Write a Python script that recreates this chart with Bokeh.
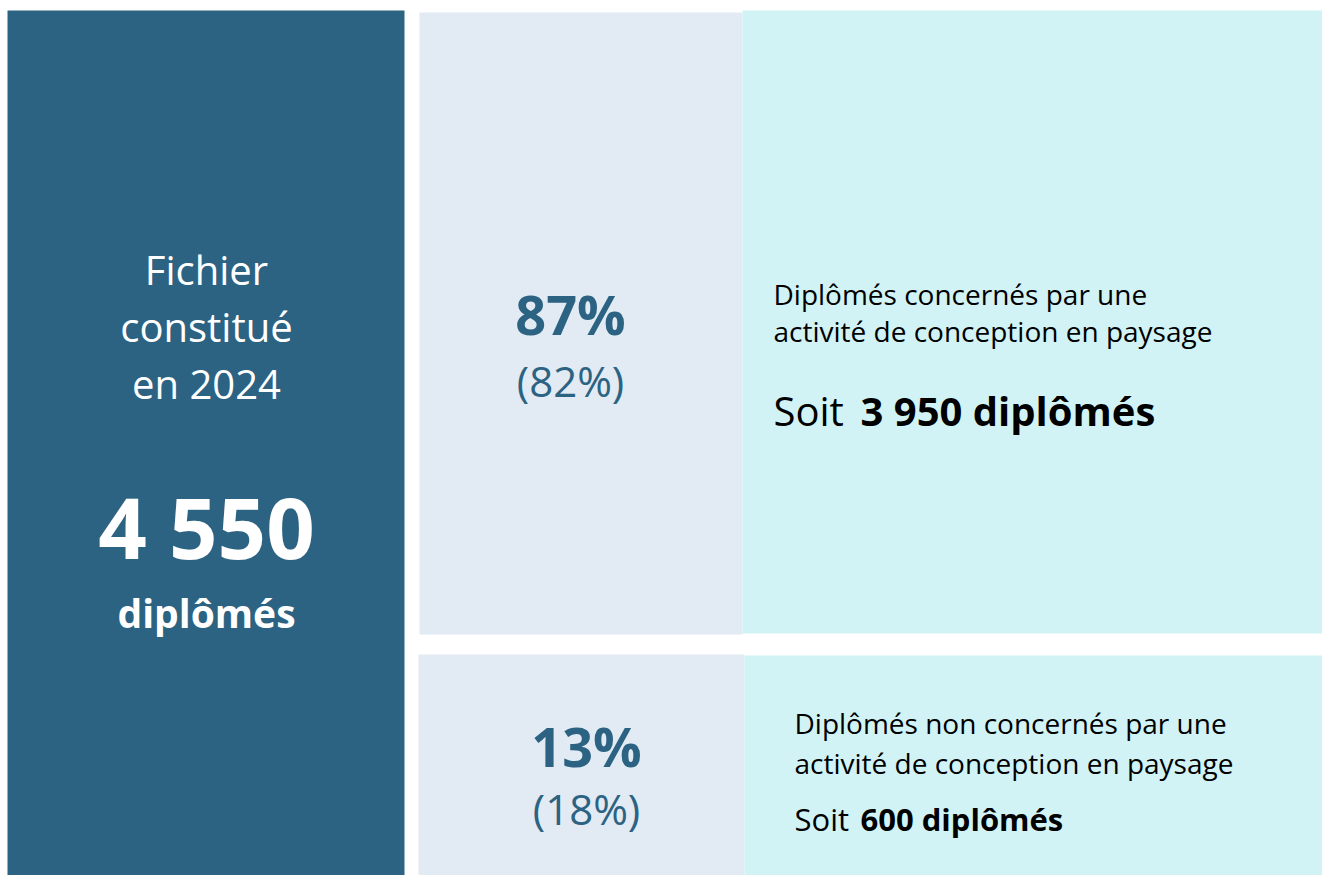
from bokeh.plotting import figure
from bokeh.models import Range1d, ColumnDataSource
from bokeh.core.properties import value
from bokeh.embed import file_html
from bokeh.resources import INLINE

# ---- data ----
year = 2024
total_graduates = 4550
shares = [87, 13]
prior_shares = [82, 18]
counts = [3950, 600]
descriptions = [
    ["Diplômés concernés par une", "activité de conception en paysage"],
    ["Diplômés non concernés par une", "activité de conception en paysage"],
]

def fmt(n):
    return f"{n:,}".replace(",", " ")

# ---- styles / layout (pixel coordinates) ----
FONT = "Open Sans"
DARK = "#2C6383"
LAV = "#E2EAF4"
CYAN = "#D2F3F6"

W, H = 1322, 875
p = figure(width=W, height=H, output_backend="svg", toolbar_location=None,
           x_range=Range1d(0, W), y_range=Range1d(H, 0),
           min_border=0, outline_line_color=None,
           x_axis_location=None, y_axis_location=None)
p.xgrid.visible = False
p.ygrid.visible = False
p.background_fill_color = "white"
p.border_fill_color = "white"

boxes = ColumnDataSource(dict(
    left=[7, 419, 742, 418, 744],
    right=[404, 742, 1340, 744, 1340],
    top=[10, 12, 10, 654, 655],
    bottom=[890, 634, 633, 890, 890],
    color=[DARK, LAV, CYAN, LAV, CYAN],
))
p.quad(left="left", right="right", top="top", bottom="bottom",
       fill_color="color", line_color=None, source=boxes)

def txt(x, y, s, size, color, bold=False, align="center"):
    p.text(x=[x], y=[y], text=[s], text_font=value(FONT),
           text_font_size=f"{size}px", text_color=color,
           text_font_style="bold" if bold else "normal",
           text_align=align, text_baseline="middle")

# left panel
left_cx = 206
for i, line in enumerate(["Fichier", "constitué", f"en {year}"]):
    txt(left_cx, 269 + i * 57, line, 40, "white")
txt(left_cx, 525, fmt(total_graduates), 85, "white", bold=True)
txt(left_cx, 612, "diplômés", 39, "white", bold=True)

# rows
pct_cx = [570, 586]
pct_y = [313, 745]
prior_y = [380, 808]
desc_x = [773, 794]
desc_y = [[293, 330], [722, 762]]
soit_y = [410, 818]
soit_size = [40, 31]
bold_x = [860, 860]
for i in range(2):
    txt(pct_cx[i], pct_y[i], f"{shares[i]}%", 54, DARK, bold=True)
    txt(pct_cx[i], prior_y[i], f"({prior_shares[i]}%)", 42, DARK)
    for j, line in enumerate(descriptions[i]):
        txt(desc_x[i], desc_y[i][j], line, 28, "black", align="left")
    txt(desc_x[i], soit_y[i], "Soit", soit_size[i], "black", align="left")
    txt(bold_x[i], soit_y[i], f"{fmt(counts[i])} diplômés", soit_size[i], "black",
        bold=True, align="left")

open("out.html", "w").write(file_html(p, INLINE))
